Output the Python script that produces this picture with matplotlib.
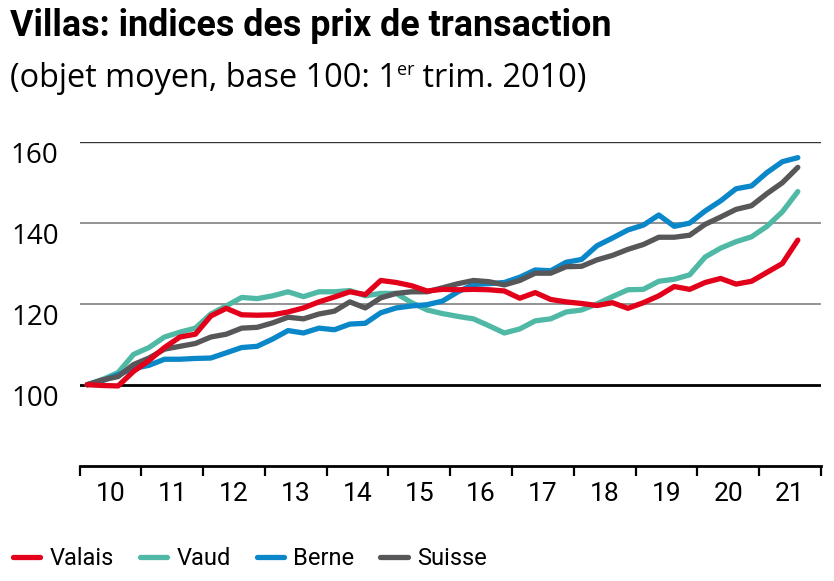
import matplotlib
matplotlib.use("Agg")
import matplotlib.pyplot as plt
import numpy as np

# quarterly indices, Q1 2010 .. Q3 2021 (base 100 = Q1 2010)
valais = [100, 99.8, 99.7, 103.3, 106, 109.2, 111.8, 112.5, 117, 118.9, 117.3, 117.2,
          117.3, 118, 119, 120.5, 121.7, 123, 122.3, 125.8, 125.3, 124.5, 123.2, 123.6,
          123.5, 123.6, 123.5, 123.2, 121.4, 122.8, 121.1, 120.5, 120.1, 119.6, 120.3, 118.9,
          120.3, 122, 124.3, 123.6, 125.3, 126.3, 124.9, 125.6, 127.8, 130, 135.8]
vaud = [100, 101.3, 103, 107.5, 109.2, 111.8, 113, 114, 117.5, 119.5, 121.6, 121.3,
        122, 123, 121.8, 123, 123, 123.3, 122, 122.6, 122.6, 120.3, 118.5, 117.6,
        116.9, 116.3, 114.6, 112.8, 113.8, 115.8, 116.3, 118, 118.5, 120, 121.8, 123.5,
        123.6, 125.6, 126.1, 127.2, 131.6, 133.8, 135.4, 136.6, 139.2, 142.8, 147.8]
berne = [100, 101, 102.5, 104, 104.8, 106.3, 106.3, 106.5, 106.6, 107.9, 109.2, 109.5,
         111.3, 113.4, 112.8, 114, 113.6, 115, 115.2, 117.8, 119, 119.5, 119.8, 120.7,
         123, 124.8, 125, 125.3, 126.6, 128.4, 128.2, 130.3, 131, 134.4, 136.3, 138.3,
         139.5, 142, 139.2, 140, 143, 145.5, 148.5, 149.2, 152.5, 155.2, 156.2]
suisse = [100, 101.2, 102, 105, 106.6, 108.8, 109.5, 110.2, 111.8, 112.5, 114, 114.2,
          115.3, 116.7, 116.3, 117.5, 118.2, 120.5, 119, 121.5, 122.6, 123, 123, 124,
          125, 125.8, 125.5, 124.7, 125.8, 127.6, 127.6, 129.2, 129.3, 130.9, 132, 133.5,
          134.7, 136.5, 136.5, 137, 139.7, 141.5, 143.4, 144.3, 147.3, 150, 153.8]

series_names = ["Valais", "Vaud", "Berne", "Suisse"]
colors = ["#e2001a", "#4fb9a5", "#0a87c9", "#575759"]
year_labels = ["10", "11", "12", "13", "14", "15", "16", "17", "18", "19", "20", "21"]
y_ticks = [100, 120, 140, 160]

narrow = ["Roboto", "DejaVu Sans"]
plain = ["Open Sans", "DejaVu Sans"]

x = 2010 + (np.arange(len(valais)) + 0.5) / 4

W, H = 834, 581
fig = plt.figure(figsize=(W / 100, H / 100), dpi=100)
ax = fig.add_axes([79.5 / W, 1 - 465.5 / H, (821 - 79.5) / W, (465.5 - 142.3) / H])

z = {"Vaud": 2, "Berne": 3, "Suisse": 4, "Valais": 5}
for name, vals, c in zip(series_names, [valais, vaud, berne, suisse], colors):
    ax.plot(x, vals, color=c, lw=3.8, label=name, zorder=z[name],
            solid_joinstyle="round", solid_capstyle="round")

# horizontal reference lines
ax.axhline(160, color="#333333", lw=1.0, zorder=1)
for v in (120, 140):
    ax.axhline(v, color="#8a8a8a", lw=1.3, zorder=1)
ax.axhline(100, color="black", lw=2.0, zorder=1)

ax.set_xlim(2010, 2022)
ax.set_ylim(80, 160)
for s in ("top", "right", "left"):
    ax.spines[s].set_visible(False)
ax.spines["bottom"].set_linewidth(2.0)
ax.spines["bottom"].set_color("black")

ax.set_xticks(np.arange(2010, 2023))
ax.set_xticklabels([])
ax.set_xticks(np.arange(2010, 2022) + 0.5, minor=True)
ax.set_xticklabels(year_labels, minor=True, fontsize=19, family=narrow)
ax.tick_params(axis="x", which="major", length=7, width=1.6, color="black")
ax.tick_params(axis="x", which="minor", length=0, pad=12)

ax.set_yticks(y_ticks)
ax.set_yticklabels([str(v) for v in y_ticks], fontsize=20, family=plain)
ax.tick_params(axis="y", length=0, pad=15)
for lab in ax.get_yticklabels():
    lab.set_verticalalignment("top")

leg = ax.legend(loc="lower left", bbox_to_anchor=(13 / W, 11 / H), bbox_transform=fig.transFigure,
                ncol=4, frameon=False, handlelength=1.15, handletextpad=0.4,
                columnspacing=1.1, prop={"family": narrow, "size": 17},
                borderaxespad=0, borderpad=0)
for h in leg.get_lines():
    h.set_linewidth(3.8)

# title and subtitle
fig.canvas.draw()
r = fig.canvas.get_renderer()
title = fig.text(10 / W, 1 - 36 / H, "Villas: indices des prix de transaction",
                 fontsize=24, fontweight="bold", family=narrow, va="baseline")
tw = title.get_window_extent(r).width
title.set_fontsize(24 * 602 / tw)

t1 = fig.text(10 / W, 1 - 87 / H, "(objet moyen, base 100: 1", fontsize=23.4,
              family=plain, va="baseline")
bb = t1.get_window_extent(r)
t2 = fig.text(bb.x1 / W, 1 - 75 / H, "er", fontsize=13, family=plain, va="baseline")
bb2 = t2.get_window_extent(r)
fig.text(bb2.x1 / W, 1 - 87 / H, " trim. 2010)", fontsize=23.4, family=plain, va="baseline")

fig.savefig("out.png", dpi=100)
